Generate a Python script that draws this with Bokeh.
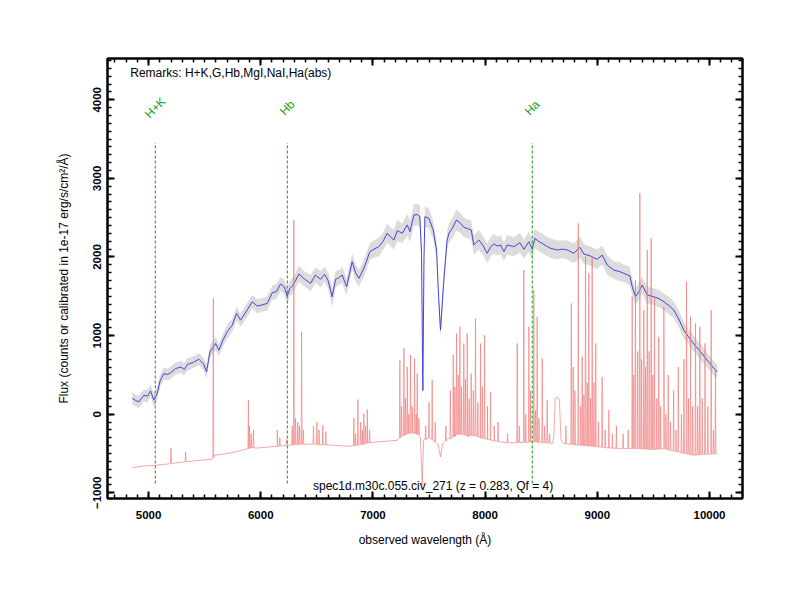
import math
import numpy as np
from bokeh.plotting import figure
from bokeh.models import (LinearAxis, Range1d, SingleIntervalTicker, Label,
                          CustomJSTickFormatter, ColumnDataSource)
from bokeh.embed import file_html
from bokeh.resources import INLINE
from bokeh.core.properties import value

# ---------------- data ----------------
# smoothed spectrum (blue)
blue_wave = [4855, 4885, 4913, 4958, 4990, 5018, 5047, 5077, 5104, 5137,
             5166, 5196, 5241, 5290, 5320, 5345, 5400, 5448, 5490, 5517,
             5547, 5597, 5627, 5665, 5701, 5746, 5784, 5820, 5879, 5924,
             5969, 6010, 6058, 6103, 6140, 6176, 6210, 6236, 6260, 6281,
             6310, 6340, 6390, 6444, 6488, 6533, 6569, 6600, 6637, 6667,
             6700, 6726, 6765, 6815, 6845, 6875, 6919, 6973, 7010, 7053,
             7090, 7128, 7160, 7187, 7217, 7261, 7306, 7330, 7365, 7395,
             7418, 7433, 7445, 7455, 7463, 7498, 7537, 7567, 7585, 7602,
             7632, 7660, 7677, 7707, 7745, 7780, 7810, 7845, 7876, 7899,
             7944, 7980, 8018, 8050, 8078, 8110, 8137, 8167, 8197, 8256,
             8310, 8345, 8390, 8420, 8443, 8475, 8509, 8545, 8583, 8643,
             8690, 8732, 8791, 8844, 8880, 8939, 8999, 9043, 9088, 9147,
             9201, 9236, 9290, 9311, 9340, 9370, 9400, 9445, 9504, 9550,
             9593, 9640, 9682, 9730, 9771, 9810, 9846, 9880, 9920, 9979,
             10030, 10070]
blue_flux = [200, 175, 157, 240, 230, 297, 178, 263, 430, 518,
             505, 526, 582, 600, 570, 633, 660, 700, 640, 539,
             794, 900, 815, 950, 1049, 1134, 1283, 1197, 1325, 1431,
             1376, 1390, 1410, 1546, 1560, 1656, 1620, 1503, 1600, 1631,
             1700, 1783, 1720, 1665, 1771, 1716, 1780, 1700, 1494, 1716,
             1740, 1771, 1622, 1940, 1800, 1729, 1856, 2068, 2100, 2131,
             2200, 2302, 2250, 2217, 2335, 2302, 2408, 2323, 2535, 2540,
             2513, 2047, 300, 2000, 2513, 2493, 2344, 2089, 1500, 1070,
             1707, 2200, 2302, 2365, 2471, 2430, 2378, 2360, 2344, 2153,
             2217, 2150, 2047, 2130, 2166, 2140, 2153, 2068, 2153, 2131,
             2182, 2098, 2195, 2098, 2238, 2200, 2174, 2140, 2111, 2089,
             2100, 2089, 2047, 2124, 2038, 2013, 1971, 2025, 1898, 1834,
             1813, 1792, 1758, 1622, 1494, 1560, 1643, 1516, 1494, 1470,
             1431, 1380, 1325, 1200, 1070, 990, 921, 860, 794, 688,
             600, 540]
# half-width of the grey (unsmoothed) flux scatter around the smoothed curve
gray_halfwidth = [80, 75, 80, 75, 80, 75, 90, 80, 75, 80,
                  75, 80, 75, 80, 75, 80, 75, 80, 75, 90,
                  80, 85, 75, 80, 90, 85, 90, 85, 90, 85,
                  90, 85, 90, 90, 95, 90, 95, 105, 95, 105,
                  95, 105, 95, 105, 95, 105, 95, 105, 125, 105,
                  95, 105, 110, 105, 110, 105, 110, 105, 110, 120,
                  110, 125, 120, 125, 135, 125, 140, 135, 140, 135,
                  140, 110, 90, 110, 135, 125, 120, 110, 110, 110,
                  110, 120, 125, 125, 135, 125, 125, 120, 125, 120,
                  125, 120, 125, 120, 125, 120, 125, 120, 125, 120,
                  125, 120, 125, 135, 125, 120, 125, 120, 125, 120,
                  110, 120, 125, 135, 125, 120, 125, 120, 125, 110,
                  120, 110, 120, 110, 105, 110, 105, 110, 105, 110,
                  105, 110, 105, 110, 105, 95, 105, 95, 105, 95,
                  90, 80]

# error / sky spectrum (red, offset): continuum points
red_cont_wave = [4855, 4950, 5062, 5130, 5196, 5300, 5400, 5523, 5570, 5590,
                 5700, 5800, 5850, 5880, 5920, 5960, 6050, 6147, 6250, 6355,
                 6450, 6550, 6652, 6750, 6800, 6870, 6949, 7050, 7150, 7217,
                 7260, 7300, 7350, 7400, 7424, 7439, 7452, 7490, 7543, 7580,
                 7602, 7620, 7680, 7740, 7800, 7840, 7900, 7960, 8020, 8080,
                 8137, 8241, 8300, 8405, 8500, 8600, 8612, 8625, 8645, 8662,
                 8676, 8702, 8800, 8900, 8999, 9100, 9200, 9296, 9400, 9500,
                 9593, 9700, 9780, 9860, 9950, 10068]
red_cont_flux = [-679, -660, -650, -640, -628, -610, -595, -577, -570, -520,
                 -500, -470, -450, -440, -420, -430, -420, -408, -395, -382,
                 -380, -390, -395, -405, -408, -380, -365, -350, -340, -331,
                 -280, -250, -240, -260, -310, -900, -330, -300, -352, -380,
                 -544, -380, -300, -250, -260, -280, -270, -300, -320, -340,
                 -352, -365, -360, -352, -360, -370, -300, 200, 221, 180,
                 -330, -374, -390, -400, -416, -430, -435, -437, -440, -450,
                 -437, -470, -500, -522, -510, -501]
# sky-line residual spikes on the red spectrum
sky_wave = [5200, 5330, 5577, 5890, 5900, 5915, 5935, 6147, 6170, 6230,
            6280, 6295, 6310, 6330, 6345, 6364, 6380, 6470, 6500, 6520,
            6553, 6580, 6830, 6845, 6866, 6890, 6905, 6919, 6935, 6949,
            6970, 7240, 7255, 7276, 7290, 7306, 7320, 7335, 7350, 7371,
            7385, 7395, 7410, 7470, 7500, 7528, 7555, 7650, 7690, 7716,
            7730, 7745, 7760, 7775, 7790, 7810, 7825, 7840, 7858, 7876,
            7895, 7914, 7935, 7959, 7975, 7995, 8020, 8048, 8080, 8115,
            8200, 8286, 8305, 8345, 8362, 8390, 8405, 8434, 8450, 8464,
            8480, 8509, 8530, 8553, 8575, 8720, 8768, 8785, 8800, 8830,
            8850, 8865, 8880, 8895, 8910, 8924, 8940, 8954, 8970, 8986,
            9010, 9043, 9070, 9103, 9135, 9170, 9230, 9275, 9311, 9325,
            9340, 9360, 9379, 9395, 9415, 9430, 9445, 9462, 9480, 9495,
            9510, 9530, 9548, 9565, 9593, 9612, 9632, 9652, 9680, 9700,
            9722, 9750, 9772, 9795, 9812, 9831, 9850, 9875, 9895, 9914,
            9935, 9960, 9985, 10015, 10035, 10053]
sky_peak = [-433, -480, 1474, 178, -150, -250, -200, -204, -300, -320,
            -150, 2471, -50, -100, -150, 1049, -200, -150, -98, -200,
            -140, -220, -50, -250, 187, -100, -200, 9, -150, 60,
            -200, 688, 100, 837, 200, 603, 0, 752, 100, 709,
            0, 518, -50, -150, 150, 433, -100, -150, 300, 752,
            350, 1028, 500, 1112, 350, 900, 450, 1028, 200, 518,
            300, 1219, 150, 900, 350, 1006, 100, 284, -150, -100,
            -250, 900, -150, 1834, 0, 1112, 300, 1580, 50, 1240,
            -50, 709, -150, 178, -250, -150, 1410, 600, 300, 2429,
            100, 730, 250, 2004, 400, 1792, 200, 2004, 400, 900,
            -100, 475, -200, 51, -250, -150, -250, -200, 1494, 500,
            1707, 800, 2811, 700, 1325, 600, 2089, 800, 2238, 500,
            1494, 200, 985, 100, 1367, 0, 500, -100, 300, -200,
            600, 0, 700, 1686, 200, 1240, 100, 1155, 100, 1112,
            200, 900, 100, 1325, -200, 560]
sky_base = [-625, -605, -550, -440, -438, -425, -428, -408, -405, -398,
            -390, -390, -388, -386, -385, -382, -381, -380, -384, -386,
            -388, -390, -400, -398, -392, -388, -384, -380, -374, -365,
            -362, -300, -280, -270, -260, -250, -245, -240, -240, -245,
            -250, -255, -260, -320, -300, -320, -350, -340, -310, -290,
            -280, -260, -255, -255, -258, -260, -265, -280, -275, -270,
            -270, -275, -285, -300, -305, -310, -320, -330, -340, -345,
            -360, -360, -360, -358, -356, -354, -352, -352, -355, -356,
            -358, -360, -362, -365, -367, -378, -382, -385, -390, -393,
            -395, -397, -398, -400, -402, -404, -406, -408, -410, -413,
            -418, -420, -425, -430, -432, -434, -436, -437, -437, -438,
            -438, -439, -440, -440, -442, -444, -445, -447, -448, -450,
            -450, -448, -445, -442, -437, -445, -455, -460, -468, -470,
            -480, -490, -498, -505, -510, -515, -520, -522, -518, -515,
            -512, -510, -508, -505, -503, -502]

# identified lines
line_names = ["H+K", "Hb", "Ha"]
line_wave = [5060, 6237, 8420]
line_bottom = -880
line_top = 3450
line_label_y = 3898

remarks_text = "Remarks: H+K,G,Hb,MgI,NaI,Ha(abs)"
object_text = "spec1d.m30c.055.civ_271 (z = 0.283, Qf = 4)"

x_major = 1000
y_major = 1000

# ---------------- build series ----------------
bw = np.array(blue_wave, dtype=float)
bf = np.array(blue_flux, dtype=float)
hw = np.array(gray_halfwidth, dtype=float)

rw = list(red_cont_wave)
rf = list(red_cont_flux)
spike_half = 4
for w, pk, b in zip(sky_wave, sky_peak, sky_base):
    rw += [w - spike_half, w, w + spike_half]
    rf += [b, pk, b]
order = np.argsort(np.array(rw, dtype=float), kind="stable")
rw = np.array(rw, dtype=float)[order]
rf = np.array(rf, dtype=float)[order]

# ---------------- figure ----------------
FONT = "Liberation Sans"
p = figure(frame_width=635, frame_height=440,
           x_range=Range1d(4634, 10294), y_range=Range1d(-1072, 4525),
           output_backend="svg", toolbar_location=None,
           min_border_left=107, min_border_top=58, min_border_right=40,
           min_border_bottom=80, background_fill_color="white",
           border_fill_color="white")
p.grid.visible = False
p.outline_line_color = "black"
p.outline_line_width = 2

xt = SingleIntervalTicker(interval=x_major, num_minor_ticks=10)
yt = SingleIntervalTicker(interval=y_major, num_minor_ticks=10)


def style_axis(ax, ticker):
    ax.ticker = ticker
    ax.axis_line_width = 2
    ax.axis_line_color = "black"
    ax.major_tick_in = 7
    ax.major_tick_out = 0
    ax.minor_tick_in = 4
    ax.minor_tick_out = 0
    ax.major_tick_line_width = 2
    ax.minor_tick_line_width = 1.5
    ax.major_label_text_font = FONT
    ax.major_label_text_font_style = "bold"
    ax.major_label_text_font_size = "11.5px"
    ax.major_label_text_color = "black"
    ax.axis_label_text_font = FONT
    ax.axis_label_text_font_style = "normal"
    ax.axis_label_text_font_size = "12px"
    ax.axis_label_text_color = "black"


xax = p.xaxis[0]
yax = p.yaxis[0]
style_axis(xax, xt)
style_axis(yax, yt)
xax.axis_label = "observed wavelength (Å)"
xax.major_label_standoff = 12
xax.axis_label_standoff = 11
yax.axis_label = "Flux (counts or calibrated in 1e-17 erg/s/cm²/Å)"
yax.major_label_orientation = "vertical"
yax.major_label_standoff = 6
yax.axis_label_standoff = 20

blank = CustomJSTickFormatter(code="return '';")
top_ax = LinearAxis(formatter=blank)
right_ax = LinearAxis(formatter=blank)
style_axis(top_ax, xt)
style_axis(right_ax, yt)
p.add_layout(top_ax, "above")
p.add_layout(right_ax, "right")

# grey scatter band
p.varea(x=bw, y1=bf - hw, y2=bf + hw, fill_color="#cdcdcd", fill_alpha=0.7)
# smoothed spectrum
p.line(bw, bf, line_color="#4444e0", line_width=1)
# red error / sky spectrum
p.line(rw, rf, line_color="#f27c7c", line_width=0.8, line_alpha=0.85)

# identified lines
src = ColumnDataSource(dict(x=line_wave, name=line_names,
                            y0=[line_bottom] * len(line_wave),
                            y1=[line_top] * len(line_wave),
                            ly=[line_label_y] * len(line_wave)))
p.segment(x0="x", x1="x", y0="y0", y1="y1", source=src,
          line_color="#22a822", line_width=1.1, line_dash="3 2")
p.text(x="x", y="ly", text="name", source=src, angle=math.pi / 4,
       text_font=value(FONT), text_font_size=value("12px"),
       text_color="#1a9e1a", text_align="center", text_baseline="middle")

p.add_layout(Label(x=4837, y=4338, text=remarks_text, text_font=FONT,
                   text_font_size="12px", text_color="black",
                   text_align="left", text_baseline="middle"))
p.add_layout(Label(x=7536, y=-916, text=object_text, text_font=FONT,
                   text_font_size="12px", text_color="black",
                   text_align="center", text_baseline="middle"))

open("out.html", "w").write(file_html(p, INLINE))
